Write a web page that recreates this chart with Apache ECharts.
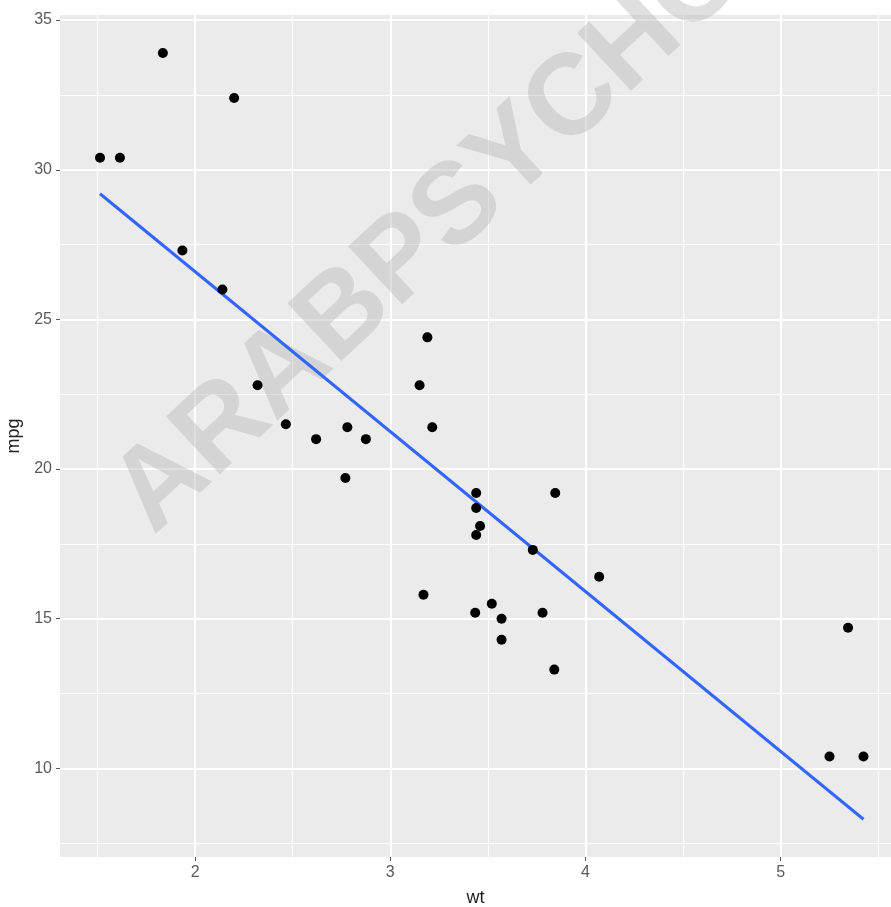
<!DOCTYPE html>
<html style="height: 100%">
<head>
    <meta charset="utf-8">
</head>
<body style="height: 100%; margin: 0; background: #fff">
<div id="container" style="height: 907px; width: 891px"></div>
<script src="https://cdn.jsdelivr.net/npm/echarts@6/dist/echarts.min.js"></script>
<script type="text/javascript">
    // mtcars: weight (1000 lbs) and miles per gallon
    var wt = [2.620, 2.875, 2.320, 3.215, 3.440, 3.460, 3.570, 3.190, 3.150, 3.440, 3.440,
              4.070, 3.730, 3.780, 5.250, 5.424, 5.345, 2.200, 1.615, 1.835, 2.465, 3.520,
              3.435, 3.840, 3.845, 1.935, 2.140, 1.513, 3.170, 2.770, 3.570, 2.780];
    var mpg = [21.0, 21.0, 22.8, 21.4, 18.7, 18.1, 14.3, 24.4, 22.8, 19.2, 17.8,
               16.4, 17.3, 15.2, 10.4, 10.4, 14.7, 32.4, 30.4, 33.9, 21.5, 15.5,
               15.2, 13.3, 19.2, 27.3, 26.0, 30.4, 15.8, 19.7, 15.0, 21.4];
    // fitted line (lm) end points
    var fitWt = [1.513, 5.424];
    var fitMpg = [29.199, 8.301];

    var xTicks = [2, 3, 4, 5];
    var xMinor = [1.5, 2.5, 3.5, 4.5, 5.5];
    var yTicks = [10, 15, 20, 25, 30, 35];
    var yMinor = [7.5, 12.5, 17.5, 22.5, 27.5, 32.5];

    var points = wt.map(function (w, i) { return [w, mpg[i]]; });
    var fit = fitWt.map(function (w, i) { return [w, fitMpg[i]]; });

    var xMin = 1.308, xMax = 5.565, yMin = 7.04, yMax = 35.17;
    var labelColor = '#5a5a5a';

    var chart = echarts.init(document.getElementById('container'));

    function majorAxis(ticks, extra) {
        var ax = {
            type: 'value',
            axisLine: { show: false },
            axisTick: { show: true, length: 4, customValues: ticks, lineStyle: { color: labelColor, width: 1 } },
            axisLabel: { customValues: ticks, color: labelColor, fontSize: 16, fontFamily: 'Liberation Sans, Arial, sans-serif', margin: 8 },
            splitLine: { show: true, lineStyle: { color: '#fff', width: 2 } },
            nameLocation: 'middle',
            nameTextStyle: { color: '#222', fontSize: 18, fontFamily: 'Liberation Sans, Arial, sans-serif' }
        };
        for (var k in extra) ax[k] = extra[k];
        return ax;
    }
    function minorAxis(ticks, extra) {
        var ax = {
            type: 'value',
            axisLine: { show: false },
            axisTick: { show: false, customValues: ticks },
            axisLabel: { show: false, customValues: ticks },
            splitLine: { show: true, lineStyle: { color: '#fff', width: 1 } }
        };
        for (var k in extra) ax[k] = extra[k];
        return ax;
    }

    var option = {
        backgroundColor: '#fff',
        animation: false,
        grid: {
            left: 60, right: 0, top: 15, bottom: 50,
            show: true, backgroundColor: '#EBEBEB', borderWidth: 0,
            outerBoundsMode: 'none'
        },
        xAxis: [
            majorAxis(xTicks, { min: xMin, max: xMax, name: 'wt', nameGap: 32 }),
            minorAxis(xMinor, { min: xMin, max: xMax })
        ],
        yAxis: [
            majorAxis(yTicks, { min: yMin, max: yMax, name: 'mpg', nameGap: 37 }),
            minorAxis(yMinor, { min: yMin, max: yMax })
        ],
        graphic: [{
            type: 'text',
            z: 1,
            x: 431, y: 234,
            rotation: Math.PI * 43 / 180,
            style: {
                text: 'ARABPSYCHO',
                fontSize: 115,
                fontWeight: 'bold',
                fontFamily: 'Liberation Sans, Arial, sans-serif',
                fill: 'rgba(185,185,185,0.45)',
                textAlign: 'center',
                textVerticalAlign: 'middle'
            }
        }],
        series: [
            {
                type: 'line',
                z: 3,
                data: fit,
                showSymbol: false,
                lineStyle: { color: '#3366FF', width: 3 },
                silent: true
            },
            {
                type: 'scatter',
                z: 4,
                data: points,
                symbolSize: 10,
                itemStyle: { color: '#000', opacity: 1 }
            }
        ]
    };
    chart.setOption(option);
</script>
</body>
</html>
